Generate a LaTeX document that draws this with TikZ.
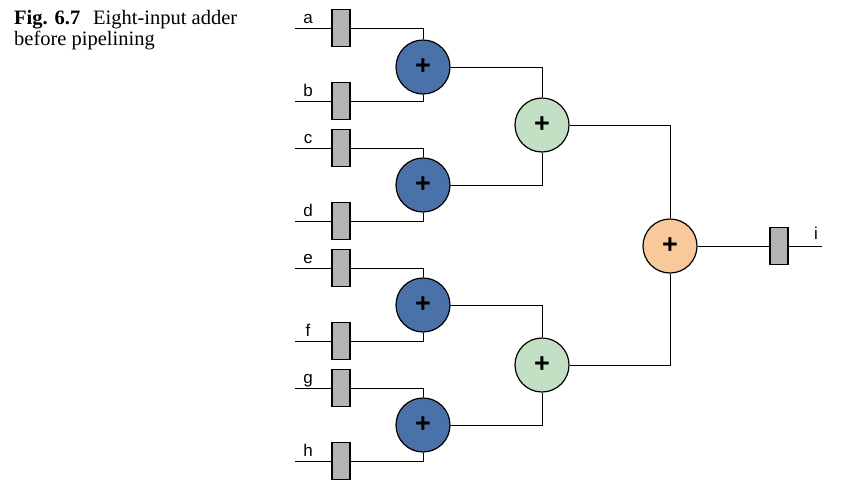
\documentclass[tikz,border=0pt]{standalone}
\usepackage{fontspec}
\setmainfont{Liberation Serif}
\setsansfont{Liberation Sans}
\definecolor{regfill}{RGB}{179,179,179}
\definecolor{bluefill}{RGB}{74,114,168}
\definecolor{greenfill}{RGB}{196,224,196}
\definecolor{orangefill}{RGB}{248,201,154}
\begin{document}
\begin{tikzpicture}[x=1pt,y=-1pt,
  reg/.style={draw=black,fill=regfill,line width=1.1pt,minimum width=18pt,minimum height=37pt,inner sep=0pt},
  adder/.style={circle,draw=black,line width=1.2pt,minimum size=54pt,inner sep=0pt,font=\sffamily\bfseries\fontsize{27}{27}\selectfont},
  wire/.style={line width=1pt,black},
  lbl/.style={anchor=base,inner sep=0pt,font=\sffamily\fontsize{17}{17}\selectfont},
  captext/.style={anchor=base west,inner sep=0pt,font=\fontsize{20.5}{21}\selectfont}]
\useasboundingbox (0,0) rectangle (846,496);
% caption
\node[captext] (capA) at (14,24) {\textbf{Fig. 6.7}};
\node[captext] (capB) at (93,24) {Eight-input adder};
\node[captext] (capC) at (14,45) {before pipelining};
% registers
\foreach \n/\y in {a/28,b/101,c/148,d/221,e/268,f/341,g/388,h/461}{
  \node[reg] (r\n) at (341,\y) {};
  \coordinate (in\n) at (295,\y);
  \draw[wire] (in\n) -- (r\n.west);
  \node[lbl] (l\n) at (308,\y-5) {\n};
}
% adders
\node[adder,fill=bluefill] (s1) at (423,67) {+};
\node[adder,fill=bluefill] (s2) at (423,185) {+};
\node[adder,fill=bluefill] (s3) at (423,305) {+};
\node[adder,fill=bluefill] (s4) at (423,425) {+};
\node[adder,fill=greenfill] (t1) at (542,125) {+};
\node[adder,fill=greenfill] (t2) at (542,365) {+};
\node[adder,fill=orangefill] (u) at (670,246) {+};
\node[reg] (rout) at (779,246) {};
\coordinate (out) at (822,246);
\node[lbl] (li) at (816,239) {i};
% wires
\draw[wire] (ra.east) -| (s1.north);
\draw[wire] (rb.east) -| (s1.south);
\draw[wire] (rc.east) -| (s2.north);
\draw[wire] (rd.east) -| (s2.south);
\draw[wire] (re.east) -| (s3.north);
\draw[wire] (rf.east) -| (s3.south);
\draw[wire] (rg.east) -| (s4.north);
\draw[wire] (rh.east) -| (s4.south);
\draw[wire] (s1.east) -| (t1.north);
\draw[wire] (s2.east) -| (t1.south);
\draw[wire] (s3.east) -| (t2.north);
\draw[wire] (s4.east) -| (t2.south);
\draw[wire] (t1.east) -| (u.north);
\draw[wire] (t2.east) -| (u.south);
\draw[wire] (u.east) -- (rout.west);
\draw[wire] (rout.east) -- (out);
\end{tikzpicture}
\end{document}
